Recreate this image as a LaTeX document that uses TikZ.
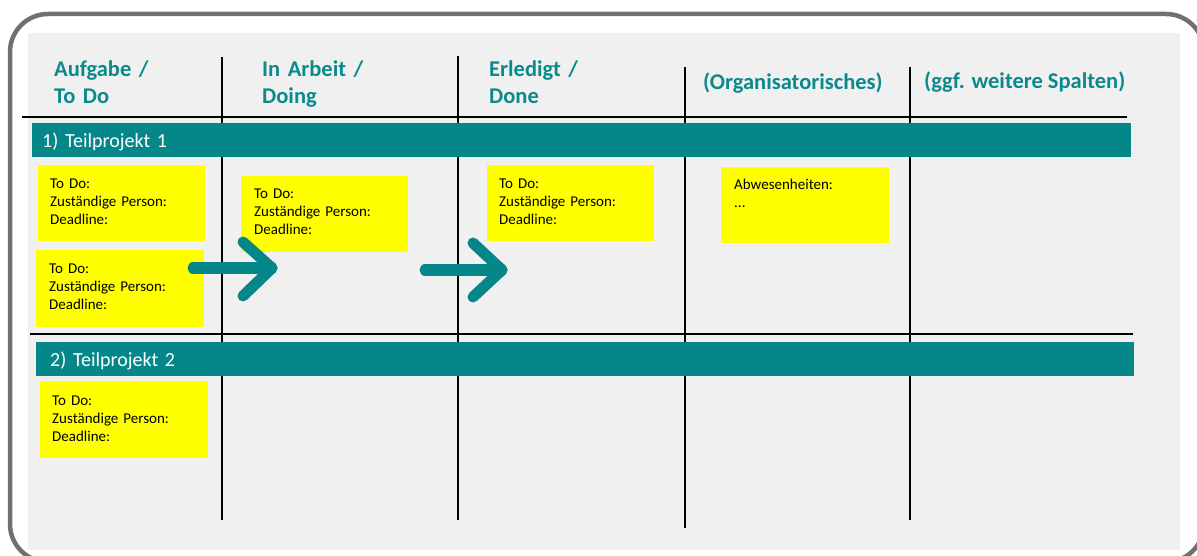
\documentclass[tikz,border=0pt]{standalone}
\usepackage{fontspec}
\setmainfont{Carlito}
\definecolor{kteal}{HTML}{058789}
\definecolor{hteal}{HTML}{0B8A8C}
\definecolor{kyellow}{HTML}{FFFF00}
\definecolor{kframe}{HTML}{707070}
\definecolor{kbg}{HTML}{F0F0F0}
\tikzset{
  frameline/.style={draw=kframe, line width=4.5pt, rounded corners=38pt},
  gridline/.style={draw=black, line width=1.8pt},
  header/.style={text=hteal, font=\fontsize{22.5}{27}\selectfont\bfseries, anchor=base west, inner sep=0pt, align=left},
  barnode/.style={fill=kteal, text=white, anchor=north west, inner ysep=0pt, minimum height=34pt,
    font=\fontsize{20}{24}\selectfont, text height=16pt, text depth=2pt, align=left},
  sticky/.style={fill=kyellow, anchor=north west, inner ysep=0pt, align=left,
    font=\fontsize{15}{18}\selectfont},
  arrowline/.style={draw=kteal, line width=11pt, line cap=round, line join=round}
}
\begin{document}
\begin{tikzpicture}[x=1pt,y=-1pt]
\useasboundingbox (0,0) rectangle (1197,556);
\clip (0,0) rectangle (1197,556);
% frame and background
\draw[frameline] (10,14) rectangle (1204,562);
\fill[kbg] (28,33) rectangle (1180,550);
% grid lines
\draw[gridline] (222,57) -- (222,520);
\draw[gridline] (458,56) -- (458,520);
\draw[gridline] (685,67) -- (685,528);
\draw[gridline] (910,67) -- (910,520);
\draw[gridline] (22,117) -- (1127,117);
\draw[gridline] (30,334) -- (1133,334);
% headers
\node[header, text width=150pt] (h1) at (54,77) {Aufgabe /\\To Do};
\node[header, text width=150pt] (h2) at (262,77) {In Arbeit /\\Doing};
\node[header, text width=150pt] (h3) at (489,77) {Erledigt /\\Done};
\node[header] (h4) at (703,90) {(Organisatorisches)};
\node[header] (h5) at (924,89) {(ggf. weitere Spalten)};
% project bars
\node[barnode, inner xsep=10pt, text width=1079pt] (p1) at (32,123) {1) Teilprojekt 1};
\node[barnode, inner xsep=14pt, text width=1070pt] (p2) at (36,342) {2) Teilprojekt 2};
% sticky notes
\node[sticky, inner xsep=12pt, text width=143pt, text height=23pt, text depth=53pt] (b1) at (38,165) {To Do:\\Zuständige Person:\\Deadline:};
\node[sticky, inner xsep=13pt, text width=142pt, text height=23pt, text depth=54pt] (b2) at (36,250) {To Do:\\Zuständige Person:\\Deadline:};
\node[sticky, inner xsep=13pt, text width=141pt, text height=22pt, text depth=54pt] (b3) at (241,176) {To Do:\\Zuständige Person:\\Deadline:};
\node[sticky, inner xsep=12pt, text width=143pt, text height=23pt, text depth=53pt] (b4) at (487,165) {To Do:\\Zuständige Person:\\Deadline:};
\node[sticky, inner xsep=13pt, text width=142pt, text height=22pt, text depth=54pt] (b5) at (721,167) {Abwesenheiten:\\...};
\node[sticky, inner xsep=12pt, text width=144pt, text height=24pt, text depth=53pt] (b6) at (40,381) {To Do:\\Zuständige Person:\\Deadline:};
% arrows
\coordinate (a1s) at (193,268);
\coordinate (a1t) at (272,268);
\coordinate (a1u) at (243,242);
\coordinate (a1d) at (243,296);
\draw[arrowline] (a1s) -- (a1t);
\draw[arrowline] (a1u) -- (a1t) -- (a1d);
\coordinate (a2s) at (425,270);
\coordinate (a2t) at (502,270);
\coordinate (a2u) at (473,243);
\coordinate (a2d) at (473,297);
\draw[arrowline] (a2s) -- (a2t);
\draw[arrowline] (a2u) -- (a2t) -- (a2d);
\end{tikzpicture}
\end{document}
